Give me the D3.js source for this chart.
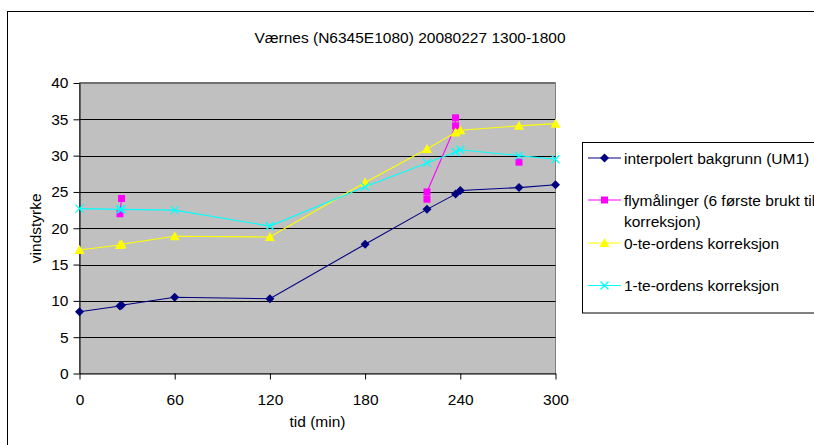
<!DOCTYPE html>
<html>
<head>
<meta charset="utf-8">
<script src="https://cdn.jsdelivr.net/npm/d3@7"></script>
<style>
  body { margin: 0; background: #fff; }
  text { font-family: "Liberation Sans", Arial, sans-serif; }
</style>
</head>
<body>
<div id="chart"></div>
<script>
// tid (min) for the model series
var timeModel = [0, 25.5, 26.5, 60, 120, 180, 219, 237, 240, 277, 300];
var bakgrunn = [8.5, 9.3, 9.4, 10.5, 10.3, 17.8, 22.6, 24.7, 25.2, 25.6, 26.0];
var korr0 = [17.0, 17.7, 17.8, 18.9, 18.8, 26.3, 30.9, 33.2, 33.5, 34.1, 34.4];
var korr1 = [22.7, 22.6, 22.6, 22.5, 20.3, 25.7, 29.0, 30.5, 30.8, 30.0, 29.5];
// flight measurements, null = break in the line
var timeFly = [25.5, 26.5, null, 219, 219, 237, 237, null, 277];
var flyVals = [22.0, 24.1, null, 24.0, 25.0, 34.1, 35.2, null, 29.1];

var xTicks = [0, 60, 120, 180, 240, 300];
var yTicks = [0, 5, 10, 15, 20, 25, 30, 35, 40];
var title = "Værnes (N6345E1080) 20080227 1300-1800";
var seriesNames = ["interpolert bakgrunn (UM1)", "flymålinger (6 første brukt til|korreksjon)",
                   "0-te-ordens korreksjon", "1-te-ordens korreksjon"];

var W = 814, H = 445;
var FS = "15.5px";
var svg = d3.select("#chart").append("svg")
    .attr("width", W)
    .attr("height", H);

// outer chart border
svg.append("rect")
    .attr("x", 7.5).attr("y", 11.5)
    .attr("width", W + 20).attr("height", H + 20)
    .attr("fill", "#fff").attr("stroke", "#000").attr("stroke-width", 1);

var x = d3.scaleLinear().domain([0, 300]).range([79.5, 555.5]);
var y = d3.scaleLinear().domain([0, 40]).range([373.5, 83]);

// plot area
svg.append("rect")
    .attr("x", x(0)).attr("y", y(40))
    .attr("width", x(300) - x(0)).attr("height", y(0) - y(40))
    .attr("fill", "#C0C0C0")
    .attr("stroke", "#808080").attr("stroke-width", 1);

svg.selectAll(".grid")
    .data(yTicks.filter(function (d) { return d > 0 && d < 40; }))
    .enter().append("line")
    .attr("class", "grid")
    .attr("x1", x(0)).attr("x2", x(300))
    .attr("y1", function (d) { return Math.round(y(d)) + 0.5; })
    .attr("y2", function (d) { return Math.round(y(d)) + 0.5; })
    .attr("stroke", "#000").attr("stroke-width", 1);

svg.append("line")
    .attr("x1", x(0)).attr("x2", x(300))
    .attr("y1", y(40)).attr("y2", y(40))
    .attr("stroke", "#707070").attr("stroke-width", 2);

// axes
var yAxis = svg.append("g")
    .attr("transform", "translate(" + x(0) + ",0)")
    .call(d3.axisLeft(y).tickValues(yTicks).tickSize(6).tickSizeOuter(0).tickPadding(5));
var xAxis = svg.append("g")
    .attr("transform", "translate(0," + y(0) + ")")
    .call(d3.axisBottom(x).tickValues(xTicks).tickSize(6).tickSizeOuter(0).tickPadding(14));

[xAxis, yAxis].forEach(function (g) {
    g.select(".domain").attr("stroke", "#000");
    g.selectAll(".tick line").attr("stroke", "#000");
    g.selectAll(".tick text")
        .attr("fill", "#000")
        .style("font-size", FS)
        .style("font-family", "'Liberation Sans', Arial, sans-serif");
});

// titles
svg.append("text")
    .attr("x", 410).attr("y", 43)
    .attr("text-anchor", "middle")
    .style("font-size", FS)
    .text(title);

svg.append("text")
    .attr("x", (x(0) + x(300)) / 2).attr("y", 427)
    .attr("text-anchor", "middle")
    .style("font-size", FS)
    .text("tid (min)");

svg.append("text")
    .attr("transform", "translate(41," + ((y(0) + y(40)) / 2) + ") rotate(-90)")
    .attr("text-anchor", "middle")
    .style("font-size", FS)
    .text("vindstyrke");

// markers
function drawMarker(g, kind, cx, cy) {
    if (kind === "diamond") {
        g.append("path")
            .attr("d", "M" + cx + "," + (cy - 4.5) + "L" + (cx + 4.5) + "," + cy +
                "L" + cx + "," + (cy + 4.5) + "L" + (cx - 4.5) + "," + cy + "Z")
            .attr("fill", "#000080");
    } else if (kind === "square") {
        g.append("rect")
            .attr("x", cx - 3.5).attr("y", cy - 3.5)
            .attr("width", 7).attr("height", 7)
            .attr("fill", "#FF00FF");
    } else if (kind === "triangle") {
        g.append("path")
            .attr("d", "M" + cx + "," + (cy - 5) + "L" + (cx + 5) + "," + (cy + 4) +
                "L" + (cx - 5) + "," + (cy + 4) + "Z")
            .attr("fill", "#FFFF00");
    } else if (kind === "cross") {
        g.append("path")
            .attr("d", "M" + (cx - 4) + "," + (cy - 4) + "L" + (cx + 4) + "," + (cy + 4) +
                "M" + (cx - 4) + "," + (cy + 4) + "L" + (cx + 4) + "," + (cy - 4))
            .attr("stroke", "#00FFFF").attr("stroke-width", 1.3).attr("fill", "none");
    }
}

var series = [
    {xs: timeModel, ys: bakgrunn, color: "#000080", marker: "diamond"},
    {xs: timeFly, ys: flyVals, color: "#FF00FF", marker: "square"},
    {xs: timeModel, ys: korr0, color: "#FFFF00", marker: "triangle"},
    {xs: timeModel, ys: korr1, color: "#00FFFF", marker: "cross"}
];

var line = d3.line()
    .defined(function (d) { return d[0] !== null && d[1] !== null; })
    .x(function (d) { return x(d[0]); })
    .y(function (d) { return y(d[1]); });

series.forEach(function (s) {
    var pts = s.xs.map(function (t, i) { return [t, s.ys[i]]; });
    var g = svg.append("g");
    g.append("path")
        .datum(pts)
        .attr("d", line)
        .attr("fill", "none")
        .attr("stroke", s.color)
        .attr("stroke-width", 1.1);
    pts.forEach(function (p) {
        if (p[0] === null) return;
        drawMarker(g, s.marker, x(p[0]), y(p[1]));
    });
});

// legend
var legend = svg.append("g");
legend.append("rect")
    .attr("x", 582.5).attr("y", 142.5)
    .attr("width", 260).attr("height", 170.5)
    .attr("fill", "#fff").attr("stroke", "#000").attr("stroke-width", 1);

var rowY = [158, 200, 243, 285.5];
series.forEach(function (s, i) {
    var ly = rowY[i];
    legend.append("line")
        .attr("x1", 588).attr("x2", 621)
        .attr("y1", ly).attr("y2", ly)
        .attr("stroke", s.color).attr("stroke-width", 1.1);
    drawMarker(legend, s.marker, 604.5, ly);
    var lines = seriesNames[i].split("|");
    lines.forEach(function (t, j) {
        legend.append("text")
            .attr("x", 624).attr("y", ly + 5.5 + j * 21)
            .style("font-size", FS)
            .attr("fill", "#000")
            .text(t);
    });
});
</script>
</body>
</html>
